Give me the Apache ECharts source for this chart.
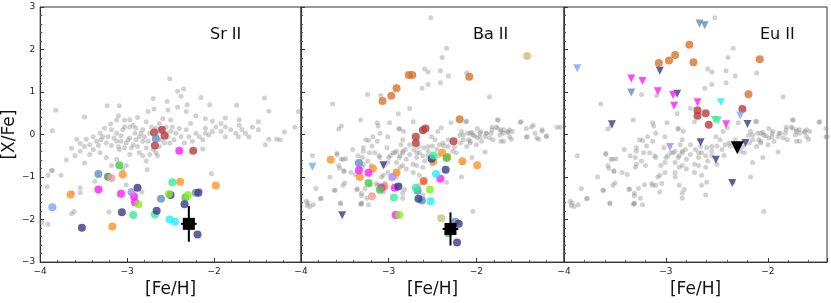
<!DOCTYPE html>
<html><head><meta charset="utf-8">
<script src="https://cdn.jsdelivr.net/npm/echarts@6/dist/echarts.min.js"></script>
<style>html,body{margin:0;padding:0;background:#fff}#c{width:831px;height:303px}</style>
</head><body><div id="c"></div>
<script>
// ---------- DATA ----------
const PANEL_TITLES = ['Sr II', 'Ba II', 'Eu II'];
const X_TICKS = [-4, -3, -2];
const Y_TICKS = [-3, -2, -1, 0, 1, 2, 3];

// background comparison stars, panel 1 ([Sr/Fe])
const SR_GRAY = [[-2.42,1.02],[-2.35,1.07],[-2.70,0.85],[-2.54,0.78],[-2.15,0.87],[-2.31,0.70],[-2.05,0.70],[-1.74,0.69],[-1.42,0.86],[-3.23,0.68],[-3.09,0.68],[-3.82,0.57],[-1.37,0.55],[-1.03,0.54],[-2.51,1.31],[-2.38,0.90],
[-3.49,0.41],[-3.10,0.44],[-2.76,0.54],[-2.69,0.60],[-2.53,0.58],[-2.42,0.64],[-2.32,0.54],[-2.21,0.44],[-2.10,0.37],[-2.02,0.31],[-1.87,0.39],[-1.71,0.35],[-1.49,0.30],[-1.07,0.17],[-1.19,0.06],[-3.86,0.09],
[-3.12,0.34],[-3.19,0.25],[-2.97,0.35],[-2.88,0.40],[-2.78,0.30],[-2.50,0.34],[-2.93,0.22],[-3.05,0.11],[-3.26,0.15],[-3.31,0.03],[-3.39,-0.05],[-3.47,-0.11],[-3.58,-0.11],[-3.54,-0.21],[-3.64,-0.32],[-3.70,-0.60],[-3.87,-0.85],[-3.92,-1.23],[-3.76,-0.96],[-3.49,-0.67],[-3.43,-0.47],[-3.33,-0.26],[-3.30,-0.12],[-3.22,-0.05],[-3.18,-0.26],[-3.12,-0.16],[-3.09,-0.35],[-3.01,-0.20],[-2.97,-0.08],[-2.91,0.03],[-2.86,-0.05],[-2.82,-0.16],[-2.88,-0.28],[-2.95,-0.31],[-2.78,-0.31],[-2.86,-0.43],[-2.74,-0.47],[-2.65,-0.50],[-2.78,-0.62],[-3.18,-0.73],[-3.01,-0.73],[-2.77,-0.83],[-3.24,-0.54],[-3.39,-0.35],[-3.49,-0.28],[-2.63,-0.28],[-2.51,-0.20],[-2.53,-0.05],[-2.44,0.03],[-2.40,0.14],[-2.32,0.11],[-2.48,0.18],[-2.63,0.26],[-2.72,0.18],[-2.29,-0.05],[-2.21,0.03],[-2.13,-0.12],[-2.06,-0.01],[-2.10,0.15],[-1.98,0.18],[-1.92,0.07],[-1.87,0.18],[-1.81,0.11],[-1.75,0.03],[-1.72,-0.05],[-1.68,0.12],[-1.60,-0.05],[-1.56,0.17],[-1.41,-0.24],[-1.37,-0.11],[-1.28,-0.11],[-1.24,-0.12],[-2.13,-0.34],[-2.03,-0.92],[-2.55,0.18],[-2.59,0.37],[-2.27,0.26],[-3.12,0.03],[-3.07,-0.03],[-3.03,0.18],[-2.90,0.15],[-2.82,0.11],
[-3.98,-2.07],[-3.91,-2.11],[-3.64,-1.86],[-3.61,-1.81],[-3.54,-1.25],[-3.37,-1.10],[-3.01,-1.18],[-3.21,-1.82],[-2.16,-1.31],[-3.91,-0.96],[-3.86,-0.84],[-3.63,-1.37],[-3.54,-1.37],[-2.83,-1.35],[-3.05,-0.81],
[-3.28,-0.05],[-3.24,-0.20],[-3.15,-0.08],[-3.10,-0.28],[-3.07,-0.16],[-3.03,-0.31],[-2.99,-0.12],[-2.93,-0.24],[-2.90,-0.12],[-2.84,0.03],[-2.80,-0.05],[-2.76,-0.16],[-2.74,0.03],[-2.70,-0.35],[-2.67,-0.43],[-2.61,-0.12],[-2.57,-0.20],[-2.50,0.07],[-2.46,-0.12],[-2.38,-0.05],[-2.34,-0.20],[-2.25,-0.16],[-2.17,-0.05],[-2.67,0.15],[-2.61,0.11],[-2.55,0.03],[-2.97,0.18],[-3.03,0.34],[-3.18,0.11],[-3.35,-0.16],[-3.43,-0.24],[-3.54,-0.39],[-3.60,-0.50],[-3.31,-0.43],[-2.97,-0.47],[-3.12,-0.58],[-2.82,-0.50],[-1.92,0.26],[-2.02,0.07],[-1.87,-0.05],[-1.64,0.03],[-1.49,0.11],[-1.71,0.22],[-2.10,0.03]];

// background comparison stars, panels 2 and 3 (same sample)
const BAEU_GRAY = [[-2.52,2.75],[-2.34,2.03],[-2.39,1.81],[-1.91,2.32],[-2.59,1.54],[-2.55,1.47],[-2.41,1.50],[-2.32,1.38],[-2.11,1.45],[-2.55,1.18],[-2.62,1.09],[-2.41,1.22],[-3.24,0.94],[-3.09,0.92],[-1.85,0.89],[-3.64,0.72],[-2.76,0.61],[-2.89,0.49],[-3.32,0.34],[-3.57,0.13],[-3.13,0.28],[-3.12,0.20],[-2.99,0.28],[-2.88,0.14],[-2.72,0.30],[-2.40,0.16],[-2.29,0.28],[-2.11,0.31],[-1.99,0.14],[-1.82,0.18],[-1.75,0.34],[-1.72,0.11],[-1.50,0.29],[-1.43,0.14],[-1.37,0.18],[-1.25,0.08],[-1.20,-0.03],[-1.29,-0.11],[-1.08,0.17],[-1.04,0.17],[-1.43,-0.06],[-1.33,0.03],[-1.64,0.07],[-1.60,-0.11],[-1.69,-0.16],[-2.07,0.03],[-2.15,-0.01],[-1.96,-0.05],[-1.88,0.03],[-3.18,-0.05],[-3.10,0.03],[-3.23,-0.14],
[-3.87,-0.50],[-3.94,-1.57],[-3.90,-1.69],[-3.77,-1.50],[-3.83,-1.27],[-3.67,-1.00],[-3.62,-1.31],[-3.55,-1.61],[-3.56,-0.79],[-3.51,-0.85],[-3.59,-0.47],[-3.52,-0.58],[-3.41,-0.35],[-3.35,-0.50],[-3.29,-0.39],[-3.26,-0.12],[-3.13,-0.16],[-3.06,-0.96],[-3.10,-1.19],[-3.31,-1.38],[-3.31,-1.61],[-3.25,-1.50],
[-3.02,-0.31],[-3.00,-0.54],[-2.95,-0.43],[-2.91,-0.66],[-2.87,-0.50],[-2.84,-0.39],[-2.80,-0.58],[-2.76,-0.47],[-2.72,-0.70],[-2.68,-0.54],[-2.65,-0.43],[-2.59,-0.62],[-2.55,-0.50],[-2.61,-0.77],[-2.72,-0.89],[-2.80,-0.81],[-2.87,-0.77],[-2.91,-0.39],[-2.86,-0.24],[-2.76,-0.24],[-2.66,-0.28],[-2.55,-0.28],[-2.47,-0.12],[-2.45,-0.35],[-2.38,-0.20],[-2.32,-0.28],[-2.27,-0.39],[-2.32,-0.12],[-3.01,-0.05],[-2.84,-0.12],[-2.51,-0.05],[-2.44,0.07],[-2.19,-0.02],[-2.15,-0.12],[-2.07,-0.16],[-2.04,-0.01],[-1.96,0.03],[-1.90,-0.05],[-1.83,0.03],[-1.77,0.18],[-1.69,0.11],[-1.62,0.11],[-1.35,0.22],[-1.25,0.11],[-1.31,-0.08],[-1.20,-0.05],[-1.73,-0.01],[-2.00,-0.24],[-2.11,-0.28],[-2.23,-0.43],[-2.17,-1.00],[-2.04,-1.81],[-2.34,-1.12],[-2.65,-1.19],[-2.61,-1.42],[-2.87,-1.19],[-3.06,-1.35],[-3.16,-0.43],[-3.10,-0.54],[-3.05,-0.73],[-3.24,-0.62],[-3.20,-0.73],[-3.30,-0.77],[-3.43,-0.89],[-3.52,-1.19],
[-3.92,-1.61],[-3.86,-1.65],[-3.55,-1.63],[-3.32,-1.64],[-3.23,-1.65],[-3.36,-1.28],[-3.27,-1.27],[-3.13,-1.19],[-2.84,-1.50],[-2.82,-1.29],
[-3.21,-1.18],[-3.14,-1.15],[-3.04,-1.15],[-3.38,-0.94],[-3.50,-1.14],[-3.57,-0.73],[-3.49,-0.57],[-3.29,-0.31],[-3.30,-0.54],[-3.29,-0.70],[-3.19,-0.27],[-3.22,-0.43],[-3.11,-0.50],[-3.01,-0.66],[-2.98,-0.50],[-2.93,-0.43],[-2.88,-0.54],[-2.84,-0.43],[-2.81,-0.35],[-2.71,-0.35],[-2.68,-0.43],[-2.61,-0.50],[-2.60,-0.31],[-2.55,-0.39],[-2.50,-0.27],[-2.42,-0.24],[-2.37,-0.27],[-2.91,-0.89],[-2.84,-0.73],[-2.91,-1.00],[-3.01,-0.89],[-3.08,-1.00],[-2.68,-0.73],[-2.65,-0.96],[-2.60,-1.12],[-2.50,-0.70],[-2.43,-0.49],[-2.84,-1.38],[-2.15,-0.66],[-2.05,-0.54],[-2.12,0.30],[-2.17,0.07],[-2.10,0.03],[-2.05,0.05],[-2.02,-0.03],[-1.95,0.07],[-1.89,0.03],[-1.82,0.11],[-1.76,0.15],[-1.72,0.07],[-1.69,0.03],[-1.64,0.05],[-1.76,0.34],[-1.59,0.07],[-1.49,0.30],[-1.99,-0.08],[-1.94,-0.16],[-1.85,-0.08],[-1.81,-0.12],[-1.72,-0.16],[-1.62,-0.05],[-2.09,-0.12],[-2.07,-0.20],[-1.90,-0.41],[-2.18,-0.20],[-2.25,-0.29],[-1.42,-0.05],[-2.83,0.08],[-2.88,0.13],[-3.54,0.20],[-3.93,-1.67],[-3.78,-1.51],[-3.61,-1.31],[-3.51,-0.87],[-3.54,-0.58],[-3.59,-0.44],[-3.36,-1.29],[-3.31,-1.44],[-3.31,-1.63]];

// panel 1: Sr II detections
const SR_RED = [[-2.69,0.05],[-2.60,0.11],[-2.57,-0.03],[-2.68,-0.26],[-2.24,-0.38]];
const SR_STEEL = [[-2.67,-0.09],[-3.33,-0.93],[-2.61,-1.51],[-2.21,-1.37]];
const SR_MAGENTA = [[-2.40,-0.38],[-3.33,-1.29],[-3.07,-1.39],[-2.92,-1.46],[-2.91,-1.59]];
const SR_GREEN = [[-3.09,-0.72],[-2.33,-1.48]];
const SR_DKGREEN = [[-3.22,-0.99]];
const SR_PINK = [[-3.18,-1.02]];
const SR_ORANGE = [[-3.05,-0.94],[-2.39,-1.11],[-1.98,-1.20],[-3.65,-1.41],[-3.17,-2.16]];
const SR_MINT = [[-2.48,-1.12],[-2.93,-1.89],[-2.68,-1.88]];
const SR_LAVENDER = [[-2.95,-1.35]];
const SR_NAVY = [[-2.88,-1.25],[-2.50,-1.42],[-2.18,-1.37],[-2.34,-1.64],[-3.06,-1.83],[-2.66,-1.79],[-2.19,-2.35],[-3.52,-2.19]];
const SR_YGREEN = [[-2.52,-1.40],[-2.30,-1.42],[-2.87,-1.64]];
const SR_CORNFLOWER = [[-3.86,-1.71]];
const SR_CYAN = [[-2.51,-2.00],[-2.45,-2.05]];
const SR_TARGET = [[-2.29,-2.10,0.09,0.42]]; // [Fe/H], [X/Fe], xerr, yerr

// panel 2: Ba II
const BA_KHAKI = [[-1.42,1.85],[-2.40,-1.97]];
const BA_COPPER = [[-2.77,1.40],[-2.73,1.40],[-2.08,1.36],[-2.91,1.09],[-2.97,0.91],[-3.07,0.79],[-2.19,0.36]];
const BA_RED = [[-2.58,0.14],[-2.61,0.10],[-2.69,-0.05],[-2.69,-0.20],[-2.26,-0.16]];
const BA_ORANGE = [[-3.66,-0.59],[-3.18,-0.80],[-3.33,-1.00],[-2.91,-0.89],[-3.05,-1.22],[-2.49,-0.63],[-2.39,-0.43],[-2.33,-0.53],[-2.16,-0.63],[-1.99,-0.72]];
const BA_STEEL = [[-3.34,-0.67],[-2.67,-1.32],[-2.62,-1.55],[-2.24,-2.05]];
const BA_MAGENTA = [[-3.34,-0.84],[-3.23,-0.90],[-3.08,-1.25],[-2.93,-1.25],[-2.41,-1.04],[-2.92,-1.89]];
const BA_LAVENDER = [[-2.96,-1.00]];
const BA_GREEN = [[-3.23,-1.14],[-3.10,-1.30],[-2.34,-0.55],[-2.32,-2.32]];
const BA_NAVY = [[-2.89,-1.22],[-2.51,-0.57],[-2.35,-0.83],[-2.66,-1.51],[-2.20,-2.10],[-2.22,-2.54]];
const BA_PINK = [[-3.19,-1.45]];
const BA_MINT = [[-2.94,-1.48],[-2.49,-0.49],[-2.69,-1.25]];
const BA_CYAN = [[-2.46,-0.93],[-2.52,-1.57]];
const BA_ORANGERED = [[-2.60,-1.09]];
const BA_YGREEN = [[-2.53,-1.29],[-2.88,-1.89]];
const BA_LIM_CORNFLOWER = [[-3.87,-0.76]];
const BA_LIM_NAVY = [[-3.06,-0.72],[-3.53,-1.90]];
const BA_TARGET = [[-2.295,-2.22,0.09,0.39]];

// panel 3: Eu II
const EU_COPPER = [[-2.77,2.11],[-2.91,1.87],[-2.97,1.74],[-3.07,1.68],[-2.73,1.70],[-2.08,1.77],[-2.19,0.95]];
const EU_RED = [[-2.69,0.57],[-2.69,0.44],[-2.61,0.50],[-2.58,0.23],[-2.25,0.60]];
const EU_LIM_STEEL = [[-2.67,2.61],[-2.62,2.57],[-3.34,0.99]];
const EU_LIM_CORNFLOWER = [[-3.87,1.56],[-2.27,0.45]];
const EU_LIM_NAVY = [[-3.06,1.50],[-2.89,0.96],[-2.20,0.25],[-3.53,0.24],[-2.66,-0.18],[-2.22,-0.20],[-2.51,-0.59],[-2.35,-1.14]];
const EU_LIM_MAGENTA = [[-3.34,1.32],[-3.23,1.26],[-3.08,1.02],[-2.93,0.93],[-2.92,0.68],[-2.69,0.76],[-2.41,0.24]];
const EU_LIM_CYAN = [[-2.46,0.76]];
const EU_LIM_MINT = [[-2.52,0.34],[-2.49,0.33]];
const EU_LIM_LAVENDER = [[-2.96,-0.29]];
const EU_TARGET_LIM = [[-2.30,-0.31]];

// ---------- STYLE ----------
const C = {
  gray:'#8c8c8c', red:'#b83c3c', steel:'#5b8ec4', magenta:'#ff1aff', green:'#44cc44', dkgreen:'#4f8f4f',
  pink:'#f59a9a', orange:'#ff9326', mint:'#33ee99', lavender:'#a98be6', navy:'#3a3a85', ygreen:'#88ee22',
  cornflower:'#7aa5ff', cyan:'#22eeff', copper:'#d9722e', khaki:'#c9c07a', orangered:'#f5552a'
};
const GRID_LEFT = [38, 301, 564];
const GRID_W = [263, 263, 263];
const X_MAX = [-1, -1, -1.42];

const minus = v => String(v).replace('-', '\u2212');

const grids = [], xAxes = [], yAxes = [], series = [];
for (let i = 0; i < 3; i++) {
  grids.push({left: GRID_LEFT[i], width: GRID_W[i], top: 7, height: 261, show: true, borderColor: '#333', borderWidth: 1});
  xAxes.push({
    gridIndex: i, type: 'value', min: X_TICKS[0], max: X_MAX[i], interval: 1,
    axisLine: {show: true, onZero: false, lineStyle: {color: '#333', width: 1}},
    axisTick: {show: true, inside: true, length: 4, lineStyle: {color: '#333'}},
    minorTick: {show: true, splitNumber: 5, length: 2, lineStyle: {color: '#555'}},
    splitLine: {show: false},
    axisLabel: {fontSize: 9, color: '#222', margin: 5, showMaxLabel: false, fontFamily: 'DejaVu Sans', formatter: minus},
    name: '[Fe/H]', nameLocation: 'middle', nameGap: 12,
    nameTextStyle: {fontSize: 17, color: '#111', fontFamily: 'DejaVu Sans'}
  });
  yAxes.push({
    gridIndex: i, type: 'value', min: Y_TICKS[0], max: Y_TICKS[Y_TICKS.length - 1], interval: 1,
    axisLine: {show: true, onZero: false, lineStyle: {color: '#333', width: 1}},
    axisTick: {show: true, inside: true, length: 4, lineStyle: {color: '#333'}},
    minorTick: {show: true, splitNumber: 5, length: 2, lineStyle: {color: '#555'}},
    splitLine: {show: false},
    axisLabel: {show: i === 0, fontSize: 9, color: '#222', margin: 5, fontFamily: 'DejaVu Sans', formatter: minus},
    name: i === 0 ? '[X/Fe]' : '', nameLocation: 'middle', nameGap: 19,
    nameTextStyle: {fontSize: 17, color: '#111', fontFamily: 'DejaVu Sans'}
  });
}

function sc(i, data, color, opts) {
  opts = opts || {};
  series.push({
    type: 'scatter', xAxisIndex: i, yAxisIndex: i, data: data,
    symbol: opts.tri ? 'triangle' : (opts.symbol || 'circle'),
    symbolRotate: opts.tri ? 180 : 0,
    symbolSize: opts.size || 8,
    z: opts.z || 3,
    silent: true,
    itemStyle: {color: color, opacity: opts.opacity !== undefined ? opts.opacity : 0.8}
  });
}
function errbar(i, data) {
  series.push({
    type: 'custom', xAxisIndex: i, yAxisIndex: i, data: data, z: 5, silent: true,
    renderItem: function (params, api) {
      const x = api.value(0), y = api.value(1), xe = api.value(2), ye = api.value(3);
      const a = api.coord([x, y - ye]), b = api.coord([x, y + ye]);
      const c = api.coord([x - xe, y]), d = api.coord([x + xe, y]);
      return {type: 'group', children: [
        {type: 'line', shape: {x1: a[0], y1: a[1], x2: b[0], y2: b[1]}, style: {stroke: '#000', lineWidth: 2}},
        {type: 'line', shape: {x1: c[0], y1: c[1], x2: d[0], y2: d[1]}, style: {stroke: '#000', lineWidth: 2}}
      ]};
    }
  });
}
const G = {size: 5, opacity: 0.4, z: 2};
// panel 1
sc(0, SR_GRAY, C.gray, G);
sc(0, SR_RED, C.red); sc(0, SR_STEEL, C.steel); sc(0, SR_MAGENTA, C.magenta); sc(0, SR_GREEN, C.green);
sc(0, SR_DKGREEN, C.dkgreen); sc(0, SR_PINK, C.pink); sc(0, SR_ORANGE, C.orange); sc(0, SR_MINT, C.mint);
sc(0, SR_LAVENDER, C.lavender); sc(0, SR_NAVY, C.navy); sc(0, SR_YGREEN, C.ygreen); sc(0, SR_CORNFLOWER, C.cornflower);
sc(0, SR_CYAN, C.cyan);
errbar(0, SR_TARGET);
sc(0, SR_TARGET, '#000', {symbol: 'rect', size: 12, opacity: 1, z: 6});
// panel 2
sc(1, BAEU_GRAY, C.gray, G);
sc(1, BA_KHAKI, C.khaki); sc(1, BA_COPPER, C.copper); sc(1, BA_RED, C.red); sc(1, BA_ORANGE, C.orange);
sc(1, BA_STEEL, C.steel); sc(1, BA_MAGENTA, C.magenta); sc(1, BA_LAVENDER, C.lavender); sc(1, BA_GREEN, C.green);
sc(1, BA_NAVY, C.navy); sc(1, BA_PINK, C.pink); sc(1, BA_MINT, C.mint); sc(1, BA_CYAN, C.cyan);
sc(1, BA_ORANGERED, C.orangered); sc(1, BA_YGREEN, C.ygreen);
sc(1, BA_LIM_CORNFLOWER, C.cornflower, {tri: true}); sc(1, BA_LIM_NAVY, C.navy, {tri: true});
errbar(1, BA_TARGET);
sc(1, BA_TARGET, '#000', {symbol: 'rect', size: 12, opacity: 1, z: 6});
// panel 3
sc(2, BAEU_GRAY, C.gray, G);
sc(2, EU_COPPER, C.copper); sc(2, EU_RED, C.red);
sc(2, EU_LIM_STEEL, C.steel, {tri: true}); sc(2, EU_LIM_CORNFLOWER, C.cornflower, {tri: true});
sc(2, EU_LIM_NAVY, C.navy, {tri: true}); sc(2, EU_LIM_MAGENTA, C.magenta, {tri: true});
sc(2, EU_LIM_CYAN, C.cyan, {tri: true}); sc(2, EU_LIM_MINT, C.mint, {tri: true});
sc(2, EU_LIM_LAVENDER, C.lavender, {tri: true});
sc(2, EU_TARGET_LIM, '#000', {tri: true, size: 13, opacity: 1, z: 6});

const TITLE_POS = [[205, 22], [468, 22], [755, 22]];
const titles = PANEL_TITLES.map((t, i) => ({
  text: t, left: TITLE_POS[i][0], top: TITLE_POS[i][1],
  textStyle: {fontSize: 16, fontWeight: 'normal', color: '#111', fontFamily: 'DejaVu Sans'}
}));

const chart = echarts.init(document.getElementById('c'), null, {renderer: 'canvas'});
chart.setOption({
  animation: false, backgroundColor: '#fff',
  title: titles, grid: grids, xAxis: xAxes, yAxis: yAxes, series: series
});
</script></body></html>
